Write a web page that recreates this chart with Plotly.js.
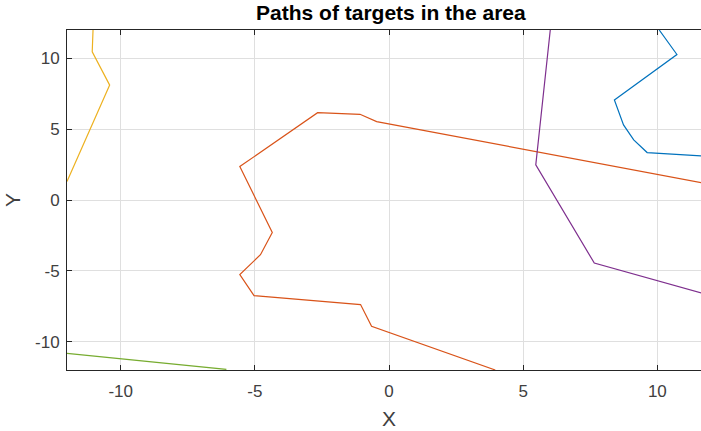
<!DOCTYPE html>
<html>
<head>
<meta charset="utf-8">
<script src="https://cdn.plot.ly/plotly-3.0.1.min.js"></script>
<style>
html, body { margin: 0; padding: 0; overflow: hidden; background: #fff; }
#chart { width: 712px; height: 431px; }
</style>
</head>
<body>
<div id="chart"></div>
<script>
// Target paths
const target1X = [10.07, 10.73, 8.40, 8.74, 9.12, 9.62, 11.64, 12.0];
const target1Y = [12.0, 10.27, 7.06, 5.30, 4.24, 3.35, 3.11, 3.09];

const target2X = [3.96, -0.65, -1.06, -5.03, -5.56, -4.79, -4.35, -5.56, -2.66, -1.08, -0.46, 11.64, 12.0];
const target2Y = [-12.0, -8.91, -7.38, -6.75, -5.27, -3.86, -2.29, 2.36, 6.16, 6.05, 5.53, 1.23, 1.10];

const target3X = [-12.0, -10.41, -11.06, -11.03];
const target3Y = [1.30, 8.11, 10.46, 12.0];

const target4X = [6.01, 5.47, 7.65, 11.64, 12.0];
const target4Y = [12.0, 2.48, -4.45, -6.56, -6.75];

const target5X = [-12.0, -6.06];
const target5Y = [-10.83, -11.96];

const seriesX = [target1X, target2X, target3X, target4X, target5X];
const seriesY = [target1Y, target2Y, target3Y, target4Y, target5Y];
const colors = ['#0072BD', '#D95319', '#EDB120', '#7E2F8E', '#77AC30'];

const tickVals = [-10, -5, 0, 5, 10];
const tickText = ['-10', '-5', '0', '5', '10'];

const traces = seriesX.map((xs, i) => ({
  x: xs, y: seriesY[i], type: 'scatter', mode: 'lines',
  line: { color: colors[i], width: 1.2 },
  hoverinfo: 'skip', showlegend: false
}));

const FONT = 'Liberation Sans, Arial, sans-serif';

const axisCommon = {
  showgrid: true, gridcolor: '#dfdfdf', gridwidth: 1,
  zeroline: false, showline: true, linecolor: '#262626', linewidth: 1,
  mirror: 'ticks', ticks: 'inside', ticklen: 5, tickcolor: '#262626',
  tickvals: tickVals, ticktext: tickText,
  tickfont: { family: FONT, size: 17, color: '#404040' }
};

const layout = {
  width: 712, height: 431,
  margin: { l: 67, r: 1, t: 30, b: 61 },
  paper_bgcolor: '#ffffff', plot_bgcolor: '#ffffff',
  title: {
    text: '<b>Paths of targets in the area</b>',
    font: { family: FONT, size: 21, color: '#000000' },
    x: 0.549, xanchor: 'center', y: 0.971, yanchor: 'middle', xref: 'container', yref: 'container'
  },
  xaxis: Object.assign({}, axisCommon, {
    range: [-12, 12],
    ticklabelstandoff: 6,
    title: { text: 'X', font: { family: FONT, size: 21, color: '#404040' }, standoff: 10 }
  }),
  yaxis: Object.assign({}, axisCommon, {
    range: [-12, 12],
    ticklabelstandoff: 3,
    title: { text: 'Y', font: { family: FONT, size: 21, color: '#404040' }, standoff: 8 }
  })
};

Plotly.newPlot('chart', traces, layout, { staticPlot: true, displayModeBar: false });
</script>
</body>
</html>
